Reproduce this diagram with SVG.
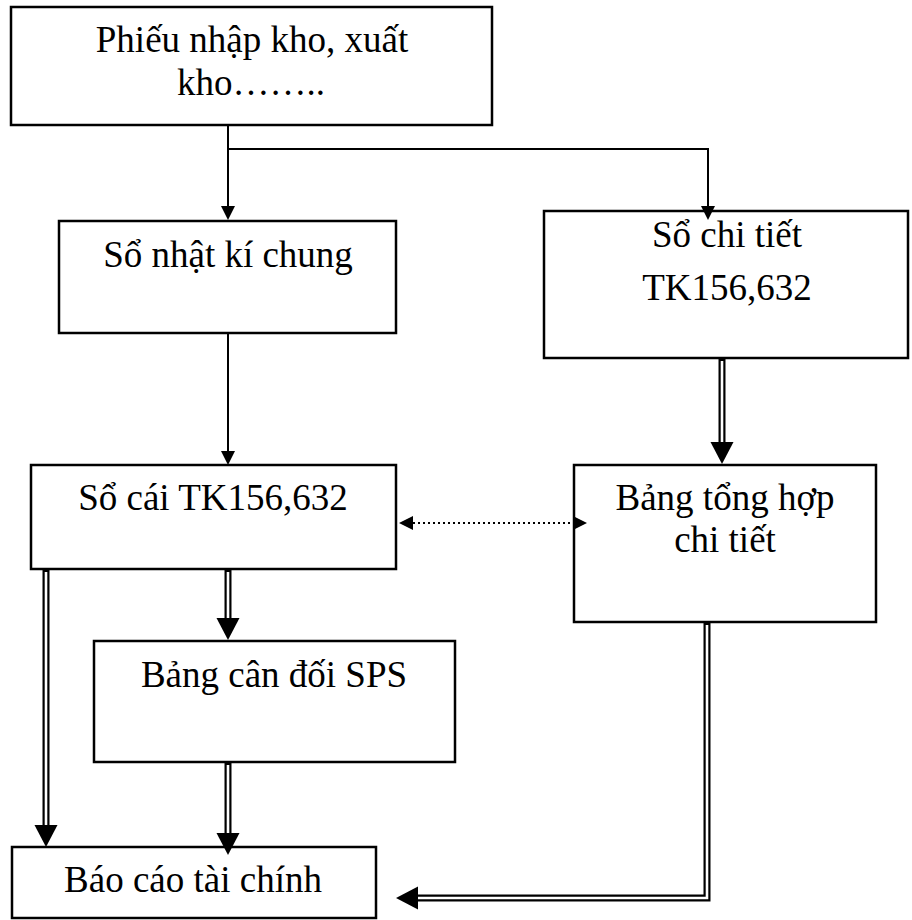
<svg xmlns="http://www.w3.org/2000/svg" width="912" height="920" viewBox="0 0 912 920">
<style>
.box{fill:#fff;stroke:#000;stroke-width:2.5}
.t{font-family:"Liberation Serif","Times New Roman",serif;font-size:37px;fill:#000;text-anchor:middle}
.single{fill:none;stroke:#000;stroke-width:2}
.dbl{fill:none;stroke:#000;stroke-width:7}
.dblin{fill:none;stroke:#fff;stroke-width:2.6}
.dot{fill:none;stroke:#000;stroke-width:2;stroke-dasharray:2 3}
</style>
<defs>
<marker id="a1" markerUnits="userSpaceOnUse" markerWidth="15" markerHeight="15" refX="0" refY="7" orient="auto-start-reverse" viewBox="0 0 15 15"><path d="M0,0 L14,7 L0,14 z" fill="#000"/></marker>
<marker id="a2" markerUnits="userSpaceOnUse" markerWidth="24" markerHeight="24" refX="0" refY="11.5" orient="auto" viewBox="0 0 24 24"><path d="M0,0 L22,11.5 L0,23 z" fill="#000"/></marker>
</defs>
<rect width="912" height="920" fill="#fff"/>
<g id="phieu-nhap-kho">
<rect class="box" x="11" y="7" width="481" height="118"/>
<text class="t" x="252" y="52">Phiếu nhập kho, xuất</text>
<text class="t" x="251" y="95">kho……..</text>
</g>
<g id="so-nhat-ki-chung">
<rect class="box" x="59" y="221" width="337" height="112"/>
<text class="t" x="228" y="267">Sổ nhật kí chung</text>
</g>
<g id="so-chi-tiet">
<rect class="box" x="544" y="211" width="364" height="147"/>
<text class="t" x="727" y="247">Sổ chi tiết</text>
<text class="t" x="727" y="300">TK156,632</text>
</g>
<g id="so-cai">
<rect class="box" x="31" y="465" width="365" height="104"/>
<text class="t" x="213" y="510">Sổ cái TK156,632</text>
</g>
<g id="bang-tong-hop">
<rect class="box" x="574" y="465" width="302" height="157"/>
<text class="t" x="725" y="510">Bảng tổng hợp</text>
<text class="t" x="725" y="552">chi tiết</text>
</g>
<g id="bang-can-doi">
<rect class="box" x="94" y="641" width="361" height="121"/>
<text class="t" x="274" y="687">Bảng cân đối SPS</text>
</g>
<g id="bao-cao-tai-chinh">
<rect class="box" x="12" y="847" width="364" height="71"/>
<text class="t" x="193" y="892">Báo cáo tài chính</text>
</g>
<g id="connectors">
<path class="single" d="M228,126 V206" marker-end="url(#a1)"/>
<path class="single" d="M228,149 H708 V206" marker-end="url(#a1)"/>
<path class="single" d="M228,334 V451" marker-end="url(#a1)"/>
<path class="dot" d="M413,523 H573" marker-start="url(#a1)" marker-end="url(#a1)"/>
<path class="dbl" d="M722,359 V442" marker-end="url(#a2)"/>
<path class="dblin" d="M722,361 V442"/>
<path class="dbl" d="M228,570 V618" marker-end="url(#a2)"/>
<path class="dblin" d="M228,572 V618"/>
<path class="dbl" d="M46,570 V825" marker-end="url(#a2)"/>
<path class="dblin" d="M46,572 V825"/>
<path class="dbl" d="M228,763 V833" marker-end="url(#a2)"/>
<path class="dblin" d="M228,765 V833"/>
<path class="dbl" d="M707,623 V898 H418" marker-end="url(#a2)"/>
<path class="dblin" d="M707,625 V898 H418"/>
</g>
</svg>
